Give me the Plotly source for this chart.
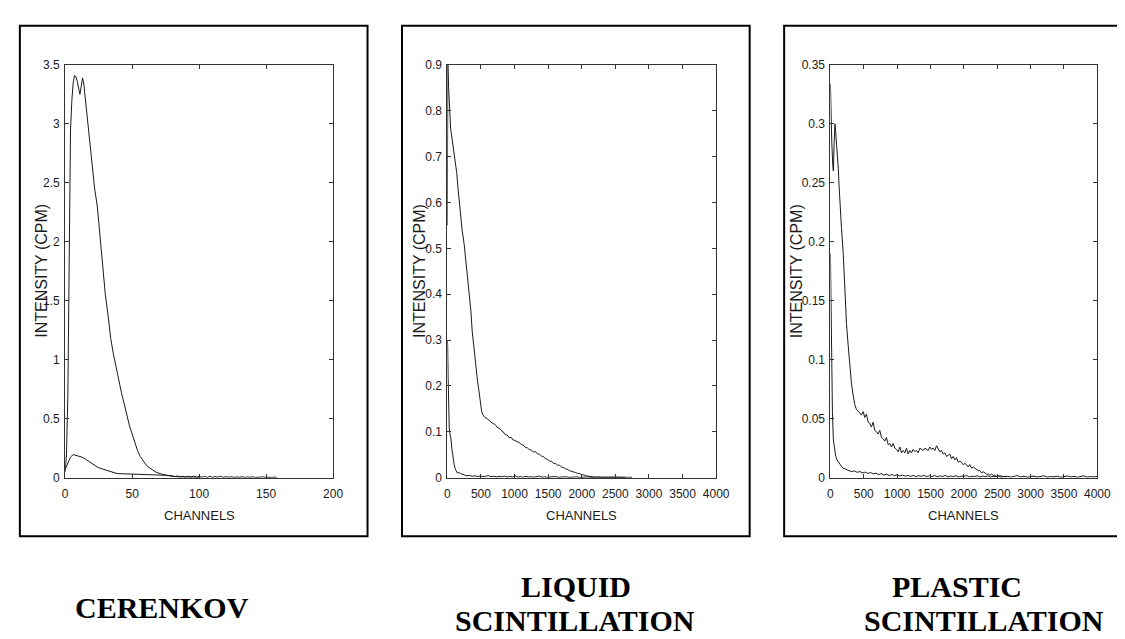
import plotly.graph_objects as go

# ---------------- DATA ----------------
# Panel 1: CERENKOV (channels 0-200)
cer_main_ch = [0, 1, 2, 2.5, 3, 3.5, 4, 5, 6, 7, 8, 9, 10, 11, 12, 13, 14, 15, 16, 17, 18, 20, 22, 24,
               26, 28, 30, 32, 34, 36, 38, 40, 42, 44, 46, 48, 50, 52, 54, 56, 58, 60, 62, 65, 68, 72,
               76, 80, 85, 90, 95, 100]
cer_main_val = [0.05, 0.2, 0.7, 1.2, 1.9, 2.5, 2.95, 3.2, 3.35, 3.41, 3.40, 3.36, 3.31, 3.25, 3.32, 3.39,
                3.33, 3.22, 3.1, 3.0, 2.88, 2.62, 2.45, 2.3, 2.05, 1.75, 1.55, 1.38, 1.18, 1.05, 0.93,
                0.81, 0.72, 0.63, 0.53, 0.44, 0.37, 0.29, 0.23, 0.18, 0.145, 0.115, 0.09, 0.066, 0.045,
                0.03, 0.018, 0.01, 0.007, 0.005, 0.004, 0.003]

cer_small_head_ch = [0, 2, 4, 6, 8, 10, 12, 14, 16, 18, 20, 22, 24, 26, 28, 30, 32, 34, 36, 38, 40, 45,
                     50, 55, 60, 65, 70, 75, 78]
cer_small_head_val = [0.07, 0.13, 0.175, 0.195, 0.19, 0.18, 0.176, 0.166, 0.15, 0.135, 0.118, 0.102,
                      0.09, 0.08, 0.072, 0.063, 0.055, 0.048, 0.042, 0.037, 0.034, 0.033, 0.032, 0.03,
                      0.028, 0.025, 0.022, 0.02, 0.018]
cer_small_tail_ch = list(range(80, 159, 2))
cer_small_tail_val = [0.016, 0.009, 0.014, 0.006, 0.012, 0.004, 0.011, 0.005, 0.013, 0.003,
                      0.012, 0.004, 0.010, 0.002, 0.011, 0.003, 0.009, 0.004, 0.012, 0.002,
                      0.008, 0.003, 0.007, 0.002, 0.006, 0.003, 0.008, 0.002, 0.006, 0.003,
                      0.007, 0.002, 0.005, 0.003, 0.006, 0.002, 0.005, 0.003, 0.004, 0.002]

# Panel 2: LIQUID SCINTILLATION (channels 0-4000)
liq_main_head_ch = [0, 8, 20, 35, 50, 65, 80, 100, 120, 140, 160, 180, 200, 220, 250, 275, 300, 325,
                    350, 370, 390, 420, 450, 470, 490, 510]
liq_main_head_val = [0.55, 0.90, 0.85, 0.78, 0.76, 0.745, 0.73, 0.71, 0.69, 0.665, 0.63, 0.60, 0.56,
                     0.54, 0.51, 0.475, 0.44, 0.40, 0.365, 0.32, 0.29, 0.245, 0.21, 0.19, 0.165, 0.145]
liq_main_mid_ch = list(range(530, 2131, 30))
liq_main_mid_val = [0.137, 0.131, 0.129, 0.124, 0.121, 0.118, 0.116, 0.110, 0.108, 0.103,
                    0.100, 0.094, 0.093, 0.087, 0.088, 0.082, 0.081, 0.078, 0.077, 0.072,
                    0.071, 0.066, 0.065, 0.061, 0.060, 0.056, 0.057, 0.052, 0.051, 0.047,
                    0.046, 0.041, 0.040, 0.036, 0.036, 0.031, 0.031, 0.027, 0.027, 0.023,
                    0.022, 0.019, 0.018, 0.015, 0.014, 0.012, 0.011, 0.009, 0.009, 0.006,
                    0.006, 0.004, 0.003, 0.002]
liq_main_tail_ch = list(range(2150, 2751, 50))
liq_main_tail_val = [0.0015, 0.0008, 0.0012, 0.0005, 0.0010, 0.0006, 0.0013, 0.0004, 0.0009, 0.0007,
                     0.0011, 0.0004, 0.0008]

liq_small_head_ch = [0, 5, 12, 20, 29, 40, 54, 70, 85, 103, 120, 151, 180, 210]
liq_small_head_val = [0.30, 0.29, 0.22, 0.15, 0.107, 0.095, 0.085, 0.06, 0.04, 0.028, 0.018, 0.01,
                      0.011, 0.008]
liq_small_tail_ch = list(range(250, 2651, 40))
liq_small_tail_val = [0.006, 0.004, 0.005, 0.003, 0.004, 0.0025, 0.0035, 0.002, 0.003, 0.0045,
                      0.002, 0.003, 0.0015, 0.0028, 0.0018, 0.0035, 0.0012, 0.0025, 0.0015, 0.004,
                      0.0012, 0.0022, 0.001, 0.0028, 0.0012, 0.002, 0.0008, 0.0018, 0.0035, 0.001,
                      0.002, 0.0008, 0.0016, 0.001, 0.0025, 0.0007, 0.0015, 0.0011, 0.002, 0.0006,
                      0.0014, 0.001, 0.0018, 0.0005, 0.0012, 0.0009, 0.0016, 0.0006, 0.0011, 0.0008,
                      0.0013, 0.0005, 0.001, 0.0007, 0.0012, 0.0004, 0.0009, 0.0006, 0.001, 0.0005,
                      0.0008]

# Panel 3: PLASTIC SCINTILLATION (channels 0-4000)
pla_main_head_ch = [0, 8, 20, 35, 44, 55, 69, 80, 93, 105, 118, 130, 143, 165, 192, 216, 241, 265,
                    290, 315, 340, 365, 389, 415, 440]
pla_main_head_val = [0.334, 0.30, 0.285, 0.265, 0.26, 0.283, 0.30, 0.292, 0.283, 0.27, 0.262, 0.247,
                     0.232, 0.212, 0.19, 0.155, 0.13, 0.113, 0.093, 0.08, 0.07, 0.062, 0.058, 0.056,
                     0.055]
pla_main_mid_ch = list(range(465, 2491, 25))
pla_main_mid_val = [0.053, 0.056, 0.051, 0.054, 0.047, 0.046, 0.043, 0.047, 0.040, 0.039,
                    0.037, 0.040, 0.034, 0.033, 0.031, 0.034, 0.028, 0.029, 0.026, 0.029,
                    0.025, 0.024, 0.022, 0.026, 0.021, 0.023, 0.021, 0.025, 0.020, 0.023,
                    0.021, 0.024, 0.022, 0.023, 0.021, 0.025, 0.024, 0.023, 0.025, 0.024,
                    0.023, 0.026, 0.024, 0.025, 0.023, 0.027, 0.025, 0.022, 0.023, 0.020,
                    0.021, 0.018, 0.019, 0.020, 0.016, 0.018, 0.015, 0.017, 0.013, 0.014,
                    0.013, 0.011, 0.012, 0.011, 0.009, 0.011, 0.008, 0.009, 0.008, 0.007,
                    0.006, 0.006, 0.004, 0.005, 0.004, 0.003, 0.003, 0.002, 0.003, 0.002,
                    0.002, 0.001]
pla_main_tail_ch = list(range(2550, 4001, 50))
pla_main_tail_val = [0.0015, 0.0008, 0.0012, 0.0005, 0.0010, 0.0018, 0.0006, 0.0011, 0.0004, 0.0009,
                     0.0013, 0.0005, 0.0008, 0.0016, 0.0004, 0.0010, 0.0007, 0.0012, 0.0003, 0.0009,
                     0.0014, 0.0006, 0.0010, 0.0004, 0.0008, 0.0015, 0.0005, 0.0009, 0.0006, 0.0011]

pla_small_head_ch = [0, 5, 10, 20, 30, 44, 60, 80, 100, 130, 160, 192, 230]
pla_small_head_val = [0.19, 0.165, 0.135, 0.09, 0.055, 0.032, 0.023, 0.018, 0.015, 0.012, 0.010,
                      0.008, 0.007]
pla_small_tail_ch = list(range(280, 2641, 40))
pla_small_tail_val = [0.0062, 0.0050, 0.0058, 0.0045, 0.0052, 0.0040, 0.0047, 0.0036, 0.0043, 0.0032,
                      0.0038, 0.0026, 0.0034, 0.0022, 0.0030, 0.0018, 0.0027, 0.0016, 0.0025, 0.0014,
                      0.0022, 0.0012, 0.0020, 0.0010, 0.0019, 0.0009, 0.0017, 0.0011, 0.0020, 0.0008,
                      0.0016, 0.0009, 0.0018, 0.0007, 0.0015, 0.0010, 0.0019, 0.0006, 0.0014, 0.0009,
                      0.0017, 0.0006, 0.0013, 0.0010, 0.0018, 0.0005, 0.0012, 0.0009, 0.0016, 0.0006,
                      0.0013, 0.0008, 0.0015, 0.0005, 0.0011, 0.0009, 0.0014, 0.0004, 0.0010, 0.0006]

# Axis ticks
cer_xticks = [0, 50, 100, 150, 200]
cer_yticks = [0, 0.5, 1, 1.5, 2, 2.5, 3, 3.5]
cer_yticktext = ["0", "0.5", "1", "1.5", "2", "2.5", "3", "3.5"]
scint_xticks = [0, 500, 1000, 1500, 2000, 2500, 3000, 3500, 4000]
liq_yticks = [0, 0.1, 0.2, 0.3, 0.4, 0.5, 0.6, 0.7, 0.8, 0.9]
liq_yticktext = ["0", "0.1", "0.2", "0.3", "0.4", "0.5", "0.6", "0.7", "0.8", "0.9"]
pla_yticks = [0, 0.05, 0.1, 0.15, 0.2, 0.25, 0.3, 0.35]
pla_yticktext = ["0", "0.05", "0.1", "0.15", "0.2", "0.25", "0.3", "0.35"]

titles = [["CERENKOV"], ["LIQUID", "SCINTILLATION"], ["PLASTIC", "SCINTILLATION"]]
y_title = "INTENSITY (CPM)"
x_title = "CHANNELS"

# ---------------- FIGURE ----------------
W, H = 1125, 639
NARROW = "Liberation Sans Narrow, Arial Narrow, Liberation Sans, Arial, sans-serif"
SANS = "Liberation Sans, Arial, sans-serif"
SERIF = "Liberation Serif, Times New Roman, serif"
LINE = dict(color="#1a1a1a", width=1)

fig = go.Figure()

series = [
    ("x", "y", cer_main_ch, cer_main_val),
    ("x", "y", cer_small_head_ch + cer_small_tail_ch, cer_small_head_val + cer_small_tail_val),
    ("x2", "y2", liq_main_head_ch + liq_main_mid_ch + liq_main_tail_ch,
     liq_main_head_val + liq_main_mid_val + liq_main_tail_val),
    ("x2", "y2", liq_small_head_ch + liq_small_tail_ch, liq_small_head_val + liq_small_tail_val),
    ("x3", "y3", pla_main_head_ch + pla_main_mid_ch + pla_main_tail_ch,
     pla_main_head_val + pla_main_mid_val + pla_main_tail_val),
    ("x3", "y3", pla_small_head_ch + pla_small_tail_ch, pla_small_head_val + pla_small_tail_val),
]
for xa, ya, xs, ys in series:
    fig.add_trace(go.Scatter(x=xs, y=ys, xaxis=xa, yaxis=ya, mode="lines", line=LINE,
                             showlegend=False, hoverinfo="skip"))

plot_lr = [(55, 327), (443, 716), (832, 1103)]
top_px, bot_px = 51, 473
box_lr = [(9, 362), (397, 750), (785, 1138)]
box_tb = (11, 533)

def fx(px):
    return px / W

def fy(py):
    return 1 - py / H

axis_common = dict(showline=True, mirror="ticks", ticks="inside", ticklen=4, tickwidth=1,
                   linecolor="#333333", linewidth=1, tickcolor="#333333", showgrid=False,
                   zeroline=False, tickfont=dict(family=NARROW, size=12, color="#1a1a1a"))

x_specs = [([0, 200], cer_xticks, [str(v) for v in cer_xticks]),
           ([0, 4000], scint_xticks, [str(v) for v in scint_xticks]),
           ([0, 4000], scint_xticks, [str(v) for v in scint_xticks])]
y_specs = [([0, 3.5], cer_yticks, cer_yticktext),
           ([0, 0.9], liq_yticks, liq_yticktext),
           ([0, 0.35], pla_yticks, pla_yticktext)]

layout_axes = {}
for i in range(3):
    sfx = "" if i == 0 else str(i + 1)
    l, r = plot_lr[i]
    xr, xt, xtt = x_specs[i]
    yr, yt, ytt = y_specs[i]
    layout_axes["xaxis" + sfx] = dict(axis_common, domain=[fx(l), fx(r)], anchor="y" + sfx,
                                      range=xr, tickvals=xt, ticktext=xtt, ticklabelstandoff=5)
    layout_axes["yaxis" + sfx] = dict(axis_common, domain=[fy(bot_px), fy(top_px)], anchor="x" + sfx,
                                      range=yr, tickvals=yt, ticktext=ytt, ticklabelstandoff=2)

fig.update_layout(width=W, height=H, margin=dict(l=0, r=0, t=0, b=0),
                  paper_bgcolor="white", plot_bgcolor="white", **layout_axes)

shapes = []
for l, r in box_lr:
    shapes.append(dict(type="rect", xref="paper", yref="paper", x0=fx(l), x1=fx(r),
                       y0=fy(box_tb[1]), y1=fy(box_tb[0]), line=dict(color="black", width=2),
                       layer="below"))
fig.update_layout(shapes=shapes)

annotations = []
ylab_x = [31, 415, 797]
for i in range(3):
    l, r = plot_lr[i]
    annotations.append(dict(text=x_title, xref="paper", yref="paper", x=fx((l + r) / 2), y=fy(512),
                            xanchor="center", yanchor="middle", showarrow=False,
                            font=dict(family=NARROW, size=13, color="#1a1a1a")))
    annotations.append(dict(text=y_title, xref="paper", yref="paper", x=fx(ylab_x[i]),
                            y=fy((top_px + bot_px) / 2), xanchor="center", yanchor="middle",
                            textangle=-90, showarrow=False,
                            font=dict(family=SANS, size=16, color="#1a1a1a")))

title_pos = [[(153, 606)], [(574, 584), (573, 619)], [(961, 584), (988, 619)]]
for lines, poss in zip(titles, title_pos):
    for txt, (px, py) in zip(lines, poss):
        annotations.append(dict(text="<b>" + txt + "</b>", xref="paper", yref="paper", x=fx(px),
                                y=fy(py), xanchor="center", yanchor="middle", showarrow=False,
                                font=dict(family=SERIF, size=30, color="black")))
fig.update_layout(annotations=annotations)

fig.write_html("out.html")
